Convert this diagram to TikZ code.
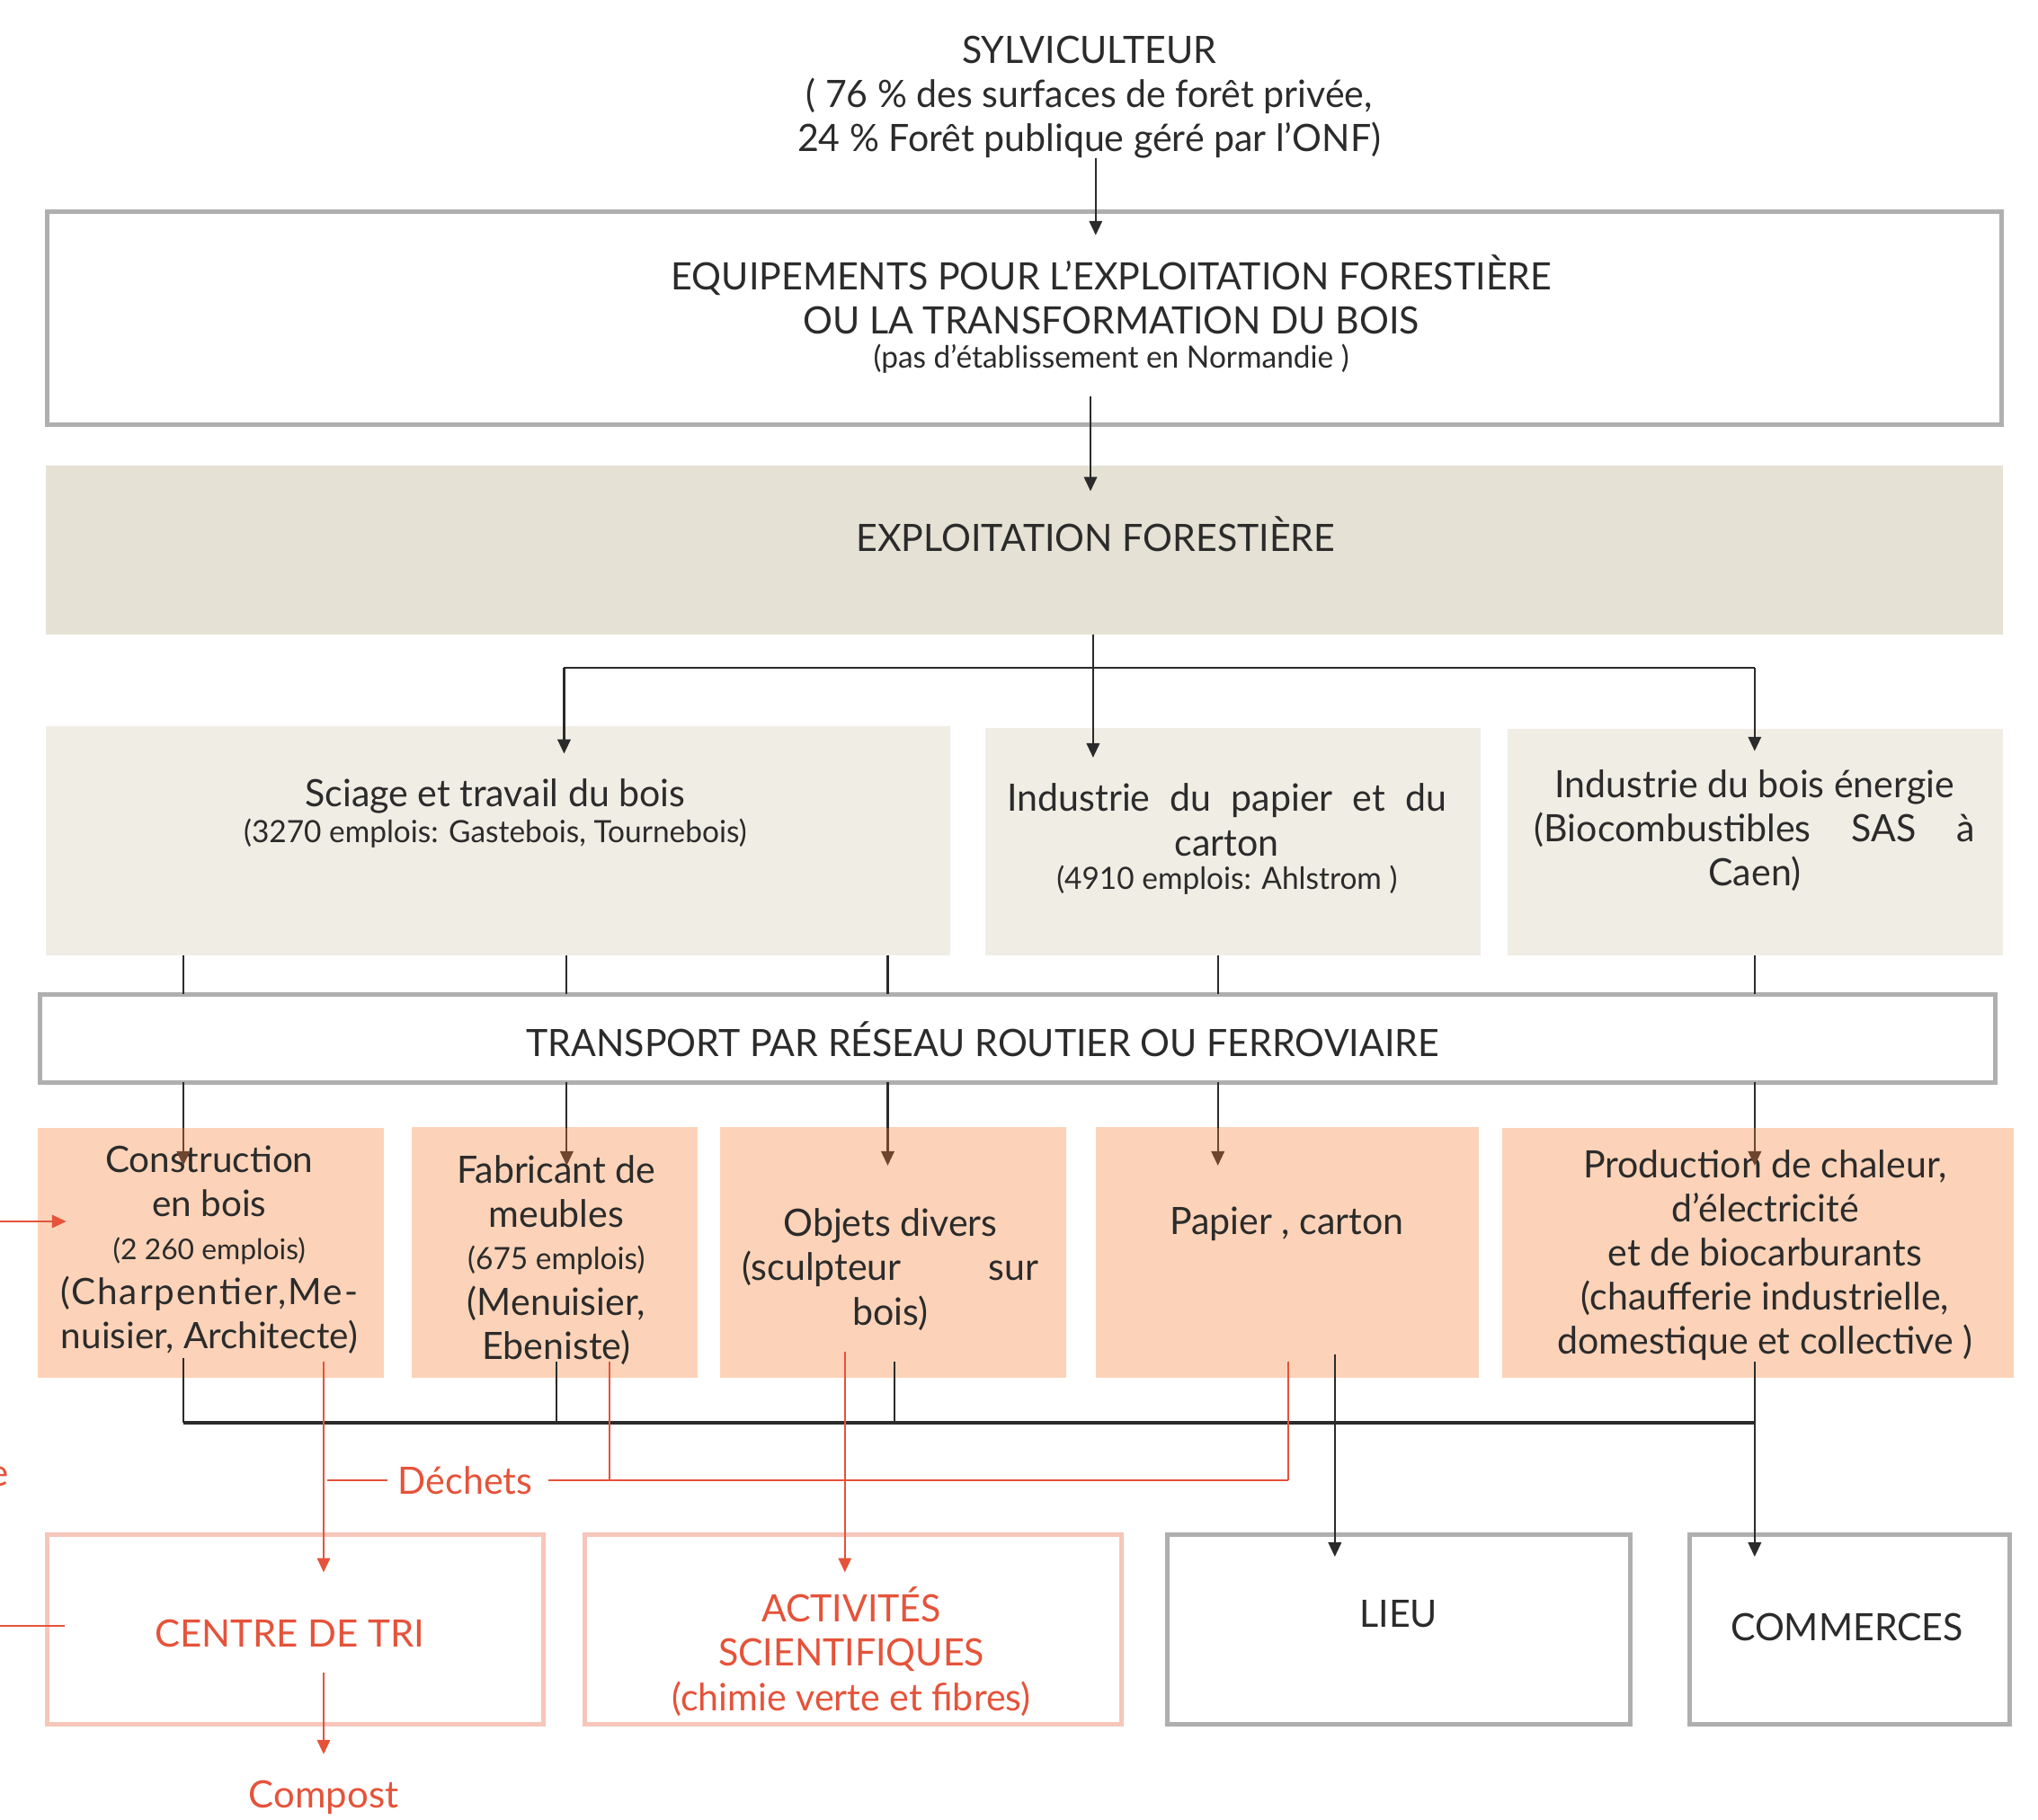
\documentclass[tikz,border=0pt]{standalone}
\usepackage{fontspec}
\setmainfont{Lato}[FakeStretch=0.98]
\newfontfamily\widefont{Lato}
\usetikzlibrary{arrows.meta,fit}
\definecolor{ink}{HTML}{2B2B2B}
\definecolor{boxgray}{HTML}{AFAFAF}
\definecolor{beigeA}{HTML}{E5E1D4}
\definecolor{beigeB}{HTML}{F0EDE5}
\definecolor{peach}{HTML}{FCD3B8}
\definecolor{redc}{HTML}{E5533A}
\definecolor{pinkb}{HTML}{F7C6BA}
\definecolor{brownc}{HTML}{6E4630}
\begin{document}
\begin{tikzpicture}[x=0.5pt,y=-0.5pt,
  big/.style={inner sep=0pt,text=ink,align=center,font=\fontsize{14.5}{17}\selectfont},
  small/.style={inner sep=0pt,text=ink,align=center,font=\fontsize{11.8}{14}\selectfont},
  wbig/.style={inner sep=0pt,text=ink,align=center,font=\widefont\fontsize{14}{17}\selectfont},
  wsmall/.style={inner sep=0pt,text=ink,align=center,font=\widefont\fontsize{11}{14}\selectfont},
  greybox/.style={draw=boxgray,line width=1.75pt,fill=white,inner sep=0pt},
  pinkbox/.style={draw=pinkb,line width=1.75pt,fill=white,inner sep=0pt},
  fillA/.style={fill=beigeA,inner sep=0pt},
  fillB/.style={fill=beigeB,inner sep=0pt},
  fillP/.style={fill=peach,inner sep=0pt},
  blk/.style={draw=ink,line width=0.75pt},
  bus/.style={draw=ink,line width=1.3pt},
  arr/.style={draw=ink,line width=0.75pt,-{Triangle[length=5.5pt,width=5pt]}},
  barr/.style={draw=brownc,line width=0.75pt,-{Triangle[length=5.5pt,width=5pt]}},
  red/.style={draw=redc,line width=0.65pt},
  rarr/.style={draw=redc,line width=0.65pt,-{Triangle[length=5.5pt,width=5pt]}},
  rtxt/.style={inner sep=0pt,text=redc,align=center,font=\fontsize{14.5}{17}\selectfont},
  wrtxt/.style={inner sep=0pt,text=redc,align=center,font=\widefont\fontsize{14.5}{17}\selectfont}
]
\useasboundingbox (0,0) rectangle (1568,1400);

% ---------- boxes ----------
\node[greybox,fit={(36,163)(1540,327)}] (equip) {};
\node[fillA,fit={(35,358)(1541,488)}] (expl) {};
\node[fillB,fit={(35,559)(731,735)}] (sciage) {};
\node[fillB,fit={(758,560)(1139,735)}] (papind) {};
\node[fillB,fit={(1160,561)(1541,735)}] (energ) {};
\node[greybox,fit={(31,765)(1535,833)}] (transp) {};
\node[fillP,fit={(29,868)(295,1060)}] (constr) {};
\node[fillP,fit={(317,867)(537,1060)}] (fabr) {};
\node[fillP,fit={(554,867)(820,1060)}] (objets) {};
\node[fillP,fit={(843,867)(1138,1060)}] (papcart) {};
\node[fillP,fit={(1156,868)(1549,1060)}] (prod) {};
\node[pinkbox,fit={(36,1181)(418,1327)}] (tri) {};
\node[pinkbox,fit={(450,1181)(863,1327)}] (acti) {};
\node[greybox,fit={(898,1181)(1254,1327)}] (lieu) {};
\node[greybox,fit={(1300,1181)(1546,1327)}] (comm) {};

% ---------- texts ----------
\node[big] (sylv) at (838,75) {SYLVICULTEUR\\( 76 \% des surfaces de forêt privée,\\24 \% Forêt publique géré par l’ONF)};
\node[big] (equipT) at (855,227) {EQUIPEMENTS POUR L’EXPLOITATION FORESTIÈRE\\OU LA TRANSFORMATION DU BOIS};
\node[small] (equipS) at (855,276) {(pas d’établissement en Normandie )};
\node[big] (explT) at (843,411) {EXPLOITATION FORESTIÈRE};
\node[big] (sciT) at (381,613) {Sciage et travail du bois};
\node[small] (sciS) at (381,641) {(3270 emplois: Gastebois, Tournebois)};
\node[big] (papT) at (944,631) {\makebox[169pt][s]{Industrie du papier et du}\\carton};
\node[small] (papS) at (944,677) {(4910 emplois: Ahlstrom )};
\node[big] (enT) at (1350,639) {Industrie du bois énergie\\\makebox[169.5pt][s]{(Biocombustibles SAS à}\\Caen)};
\node[big] (trT) at (756,800) {TRANSPORT PAR RÉSEAU ROUTIER OU FERROVIAIRE};
\node[wbig] (coT) at (161,909) {Construction\\en bois};
\node[wsmall] (coS) at (161,963) {(2 260 emplois)};
\node[wbig] (coB) at (161,1012) {{\addfontfeature{LetterSpace=5}(Charpentier,Me-}\\nuisier, Architecte)};
\node[big] (faT) at (428,917) {Fabricant de\\meubles};
\node[small] (faS) at (428,970) {(675 emplois)};
\node[big] (faB) at (428,1020) {(Menuisier,\\Ebeniste)};
\node[big] (obT) at (685,977) {Objets divers\\\makebox[114pt][s]{(sculpteur sur}\\bois)};
\node[big] (paT) at (990,942) {Papier , carton};
\node[big] (prT) at (1358,966) {Production de chaleur,\\d’électricité\\et de biocarburants\\(chaufferie industrielle,\\domestique et collective )};
\node[rtxt] (dech) at (358,1139) {Déchets};
\node[wrtxt] (triT) at (223,1257) {CENTRE DE TRI};
\node[wrtxt] (comp) at (249,1383) {Compost};
\node[rtxt] (actT) at (655,1271) {ACTIVITÉS\\SCIENTIFIQUES\\(chimie verte et fibres)};
\node[big] (lieuT) at (1076,1242) {LIEU};
\node[big] (commT) at (1421,1252) {COMMERCES};
\node[wrtxt,anchor=east] (cutE) at (7,1136) {e};

% ---------- coordinates ----------
\coordinate (s1) at (843,122);  \coordinate (s1e) at (843,181);
\coordinate (e1) at (839,305);  \coordinate (e1e) at (839,378);
\coordinate (x0) at (841,488);  \coordinate (xj) at (841,514);
\coordinate (xl) at (434,514);  \coordinate (xr) at (1350,514);
\coordinate (xle) at (434,580); \coordinate (xme) at (841,583); \coordinate (xre) at (1350,578);
\foreach \n/\x in {a/141,b/436,c/683,d/937,e/1350}{
  \coordinate (u\n) at (\x,735);
  \coordinate (v\n) at (\x,765);
  \coordinate (w\n) at (\x,833);
  \coordinate (t\n) at (\x,868);
  \coordinate (z\n) at (\x,897);
}
\coordinate (k1) at (141,1045); \coordinate (k1b) at (141,1095);
\coordinate (k2) at (428,1048); \coordinate (k2b) at (428,1095);
\coordinate (k3) at (688,1048); \coordinate (k3b) at (688,1095);
\coordinate (k4) at (1350,1048); \coordinate (k4b) at (1350,1095); \coordinate (k4e) at (1350,1198);
\coordinate (k5) at (1027,1042); \coordinate (k5e) at (1027,1198);
\coordinate (r1) at (249,1048); \coordinate (r1e) at (249,1210);
\coordinate (r2) at (650,1040); \coordinate (r2e) at (650,1210);
\coordinate (r3) at (469,1048); \coordinate (r3b) at (469,1139);
\coordinate (r4) at (991,1048); \coordinate (r4b) at (991,1139);
\coordinate (dl1) at (252,1139); \coordinate (dl2) at (298,1139);
\coordinate (dr1) at (422,1139);
\coordinate (tri1) at (249,1287); \coordinate (tri1e) at (249,1350);
\coordinate (lin1) at (0,940); \coordinate (lin1e) at (51,940);
\coordinate (lin2) at (0,1251); \coordinate (lin2e) at (50,1251);

% ---------- connectors ----------
\draw[arr] (s1) -- (s1e);
\draw[arr] (e1) -- (e1e);
\draw[blk] (x0) -- (xj);
\draw[blk] (xl) -- (xr);
\draw[arr] (xl) -- (xle);
\draw[arr] (xj) -- (xme);
\draw[arr] (xr) -- (xre);
\foreach \n in {a,b,c,d,e}{
  \draw[blk] (u\n) -- (v\n);
  \draw[blk] (w\n) -- (t\n);
  \draw[barr] (t\n) -- (z\n);
}
\draw[bus] (k1b) -- (k4b);
\draw[blk] (k1) -- (k1b);
\draw[blk] (k2) -- (k2b);
\draw[blk] (k3) -- (k3b);
\draw[arr] (k4) -- (k4e);
\draw[arr] (k5) -- (k5e);
\draw[rarr] (r1) -- (r1e);
\draw[rarr] (r2) -- (r2e);
\draw[red] (r3) -- (r3b);
\draw[red] (r4) -- (r4b);
\draw[red] (dl1) -- (dl2);
\draw[red] (dr1) -- (r4b);
\draw[rarr] (tri1) -- (tri1e);
\draw[rarr] (lin1) -- (lin1e);
\draw[red] (lin2) -- (lin2e);
\end{tikzpicture}
\end{document}
